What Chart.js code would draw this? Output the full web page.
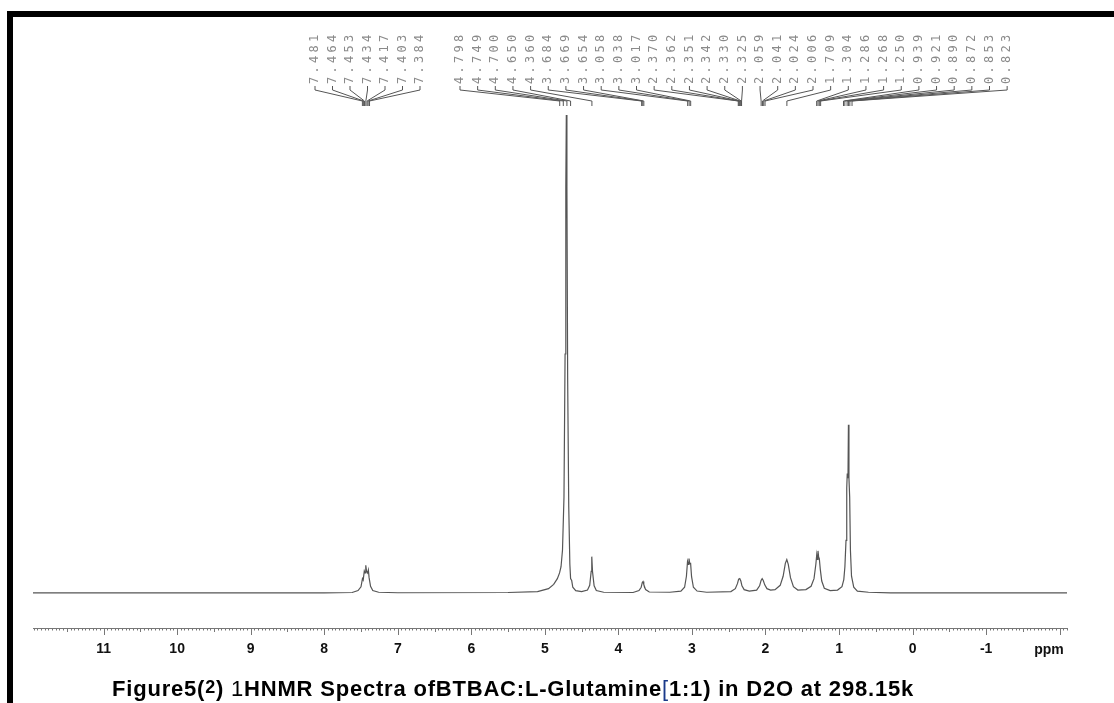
<!DOCTYPE html>
<html lang="en">
<head>
<meta charset="UTF-8">
<title>1HNMR Spectra of BTBAC:L-Glutamine</title>
<script src="https://cdn.jsdelivr.net/npm/chart.js"></script>
<style>
  html, body { margin: 0; padding: 0; background: #fff; }
  body { width: 1114px; height: 703px; position: relative; overflow: hidden;
         font-family: Arial, "Liberation Sans", sans-serif; }
  .frame { position: absolute; left: 7px; top: 11px; right: 0; bottom: 0;
           border-top: 6px solid #000; border-left: 6px solid #000; }
  #spectrum { position: absolute; left: 0; top: 0; }
  .caption { position: absolute; left: 0; width: 1026px; top: 675px; text-align: center;
             font-weight: bold; font-size: 22px; letter-spacing: 0.8px; line-height: 24px;
             color: #000; white-space: nowrap; }
  .caption .thin { font-weight: normal; }
  .caption sup { font-size: 18px; vertical-align: 3px; }
  .caption .br { font-weight: normal; color: #1a3a8a; }
</style>
</head>
<body>
<div class="frame"></div>
<canvas id="spectrum" width="1114" height="703"></canvas>
<div class="caption">Figure5(<sup>2</sup>) <span class="thin">1</span>HNMR Spectra ofBTBAC:L-Glutamine<span class="br">[</span>1:1) in D2O at 298.15k</div>

<script>
// spectrum trace (ppm, intensity; tallest peak = 100)
const ppm = [11.96, 8.0, 7.62, 7.54, 7.50, 7.48, 7.47, 7.455, 7.445, 7.435, 7.425, 7.41, 7.40, 7.39, 7.37, 7.34, 7.26, 7.0,
  5.5, 5.1, 4.95, 4.88, 4.83, 4.80, 4.78, 4.76, 4.74, 4.725, 4.715, 4.708, 4.70, 4.69, 4.675, 4.66, 4.65, 4.635, 4.62, 4.58, 4.50,
  4.42, 4.39, 4.37, 4.362, 4.352, 4.33, 4.30, 4.2,
  3.80, 3.72, 3.69, 3.675, 3.665, 3.655, 3.63, 3.58,
  3.3, 3.15, 3.10, 3.075, 3.06, 3.05, 3.04, 3.03, 3.018, 3.005, 2.98, 2.93, 2.8,
  2.47, 2.41, 2.38, 2.365, 2.35, 2.335, 2.32, 2.29, 2.22,
  2.12, 2.08, 2.06, 2.045, 2.03, 2.01, 1.98, 1.93,
  1.87, 1.80, 1.76, 1.73, 1.71, 1.69, 1.66, 1.62, 1.56,
  1.45, 1.38, 1.34, 1.315, 1.303, 1.295, 1.286, 1.277, 1.268, 1.255, 1.235, 1.20, 1.12,
  1.02, 0.96, 0.935, 0.92, 0.905, 0.895, 0.888, 0.878, 0.872, 0.865, 0.855, 0.845, 0.83, 0.80, 0.75, 0.6, 0.3, -2.1];
const intensity = [0, 0, 0.1, 0.5, 1.3, 3.0, 2.7, 4.6, 4.2, 5.8, 4.6, 4.2, 4.8, 3.2, 1.4, 0.5, 0.15, 0.05,
  0.1, 0.3, 0.9, 1.8, 3.0, 4.2, 5.5, 9, 20, 50, 85, 100, 85, 45, 18, 6, 3, 2.6, 1.2, 0.5, 0.3,
  0.6, 1.6, 4.5, 7.6, 4.5, 1.5, 0.5, 0.15,
  0.1, 0.5, 1.2, 2.2, 2.4, 1.8, 0.7, 0.2,
  0.15, 0.4, 1.2, 3.5, 6.6, 6.0, 7.2, 6.2, 6.2, 3.4, 1.2, 0.4, 0.15,
  0.3, 0.9, 2.0, 2.9, 3.0, 2.5, 1.5, 0.7, 0.4,
  0.6, 1.5, 2.6, 3.0, 2.6, 1.7, 0.9, 0.6,
  0.7, 1.6, 3.5, 6.2, 7.0, 6.0, 3.2, 1.3, 0.6,
  0.7, 1.4, 3.0, 6.0, 8.0, 7.0, 8.8, 7.5, 7.2, 5.0, 2.5, 1.0, 0.5,
  0.6, 1.3, 2.8, 5.5, 11, 22, 25, 24, 35.2, 24, 20, 9, 3.5, 1.2, 0.4, 0.15, 0, 0];

const tickValues = [11, 10, 9, 8, 7, 6, 5, 4, 3, 2, 1, 0, -1];

const peakGroup1 = ['7.481', '7.464', '7.453', '7.434', '7.417', '7.403', '7.384'];
const peakGroup2 = ['4.798', '4.749', '4.700', '4.650', '4.360', '3.684', '3.669', '3.654',
  '3.058', '3.038', '3.017', '2.370', '2.362', '2.351', '2.342', '2.330', '2.325',
  '2.059', '2.041', '2.024', '2.006', '1.709', '1.304', '1.286', '1.268', '1.250',
  '0.939', '0.921', '0.890', '0.872', '0.853', '0.823'];

const points = ppm.map((p, i) => ({ x: p, y: intensity[i] }));

// ruler ticks and peak pick labels
const nmrDecor = {
  id: 'nmrDecor',
  afterDraw(chart) {
    const ctx = chart.ctx;
    const xs = chart.scales.x;
    const y0 = chart.chartArea.bottom;
    ctx.save();
    ctx.strokeStyle = '#777';
    ctx.lineWidth = 1;
    ctx.beginPath();
    for (let k = -42; k <= 239; k++) {
      const v = k * 0.05;
      const px = Math.round(xs.getPixelForValue(v)) + 0.5;
      const len = (k % 20 === 0) ? 7 : (k % 10 === 0 ? 4 : 2.5);
      ctx.moveTo(px, y0);
      ctx.lineTo(px, y0 + len);
    }
    ctx.stroke();

    // ppm unit label
    ctx.fillStyle = '#111';
    ctx.font = 'bold 14px Arial, "Liberation Sans"';
    ctx.textAlign = 'center';
    ctx.textBaseline = 'middle';
    ctx.fillText('ppm', 1049, 650);

    // peak labels
    ctx.font = '12px "DejaVu Sans Mono", monospace';
    ctx.letterSpacing = '3.3px';
    ctx.textAlign = 'left';
    const all = peakGroup1.concat(peakGroup2);
    all.forEach((lab, i) => {
      const lx = i < peakGroup1.length ? 315 + i * 17.5 : 460 + (i - peakGroup1.length) * 17.65;
      const px = xs.getPixelForValue(parseFloat(lab));
      ctx.save();
      ctx.translate(lx, 84);
      ctx.rotate(-Math.PI / 2);
      ctx.fillStyle = '#8a8a8a';
      ctx.fillText(lab, 0, 0);
      ctx.restore();
      ctx.strokeStyle = '#555';
      ctx.beginPath();
      ctx.moveTo(lx, 86);
      ctx.lineTo(lx, 90);
      ctx.lineTo(px, 101);
      ctx.lineTo(px, 106);
      ctx.stroke();
    });
    ctx.restore();
  }
};

new Chart(document.getElementById('spectrum'), {
  type: 'line',
  data: {
    datasets: [{
      data: points,
      borderColor: '#555',
      borderWidth: 1.2,
      pointRadius: 0,
      tension: 0,
      fill: false
    }]
  },
  options: {
    responsive: false,
    animation: false,
    parsing: false,
    layout: { padding: { left: 33, right: 47, top: 110, bottom: 0 } },
    plugins: { legend: { display: false }, tooltip: { enabled: false } },
    scales: {
      x: {
        type: 'linear',
        reverse: true,
        min: -2.1,
        max: 11.96,
        afterFit(scale) { scale.height = 75; },
        afterBuildTicks(scale) { scale.ticks = tickValues.map(v => ({ value: v })); },
        grid: { display: false, drawTicks: false },
        border: { display: true, color: '#777', width: 1 },
        ticks: {
          padding: 13,
          maxRotation: 0,
          autoSkip: false,
          color: '#111',
          font: { family: 'Arial, "Liberation Sans"', size: 14, weight: 'bold' },
          callback: v => String(v)
        }
      },
      y: {
        display: false,
        min: -7.33,
        max: 101.05
      }
    }
  },
  plugins: [nmrDecor]
});
</script>
</body>
</html>
